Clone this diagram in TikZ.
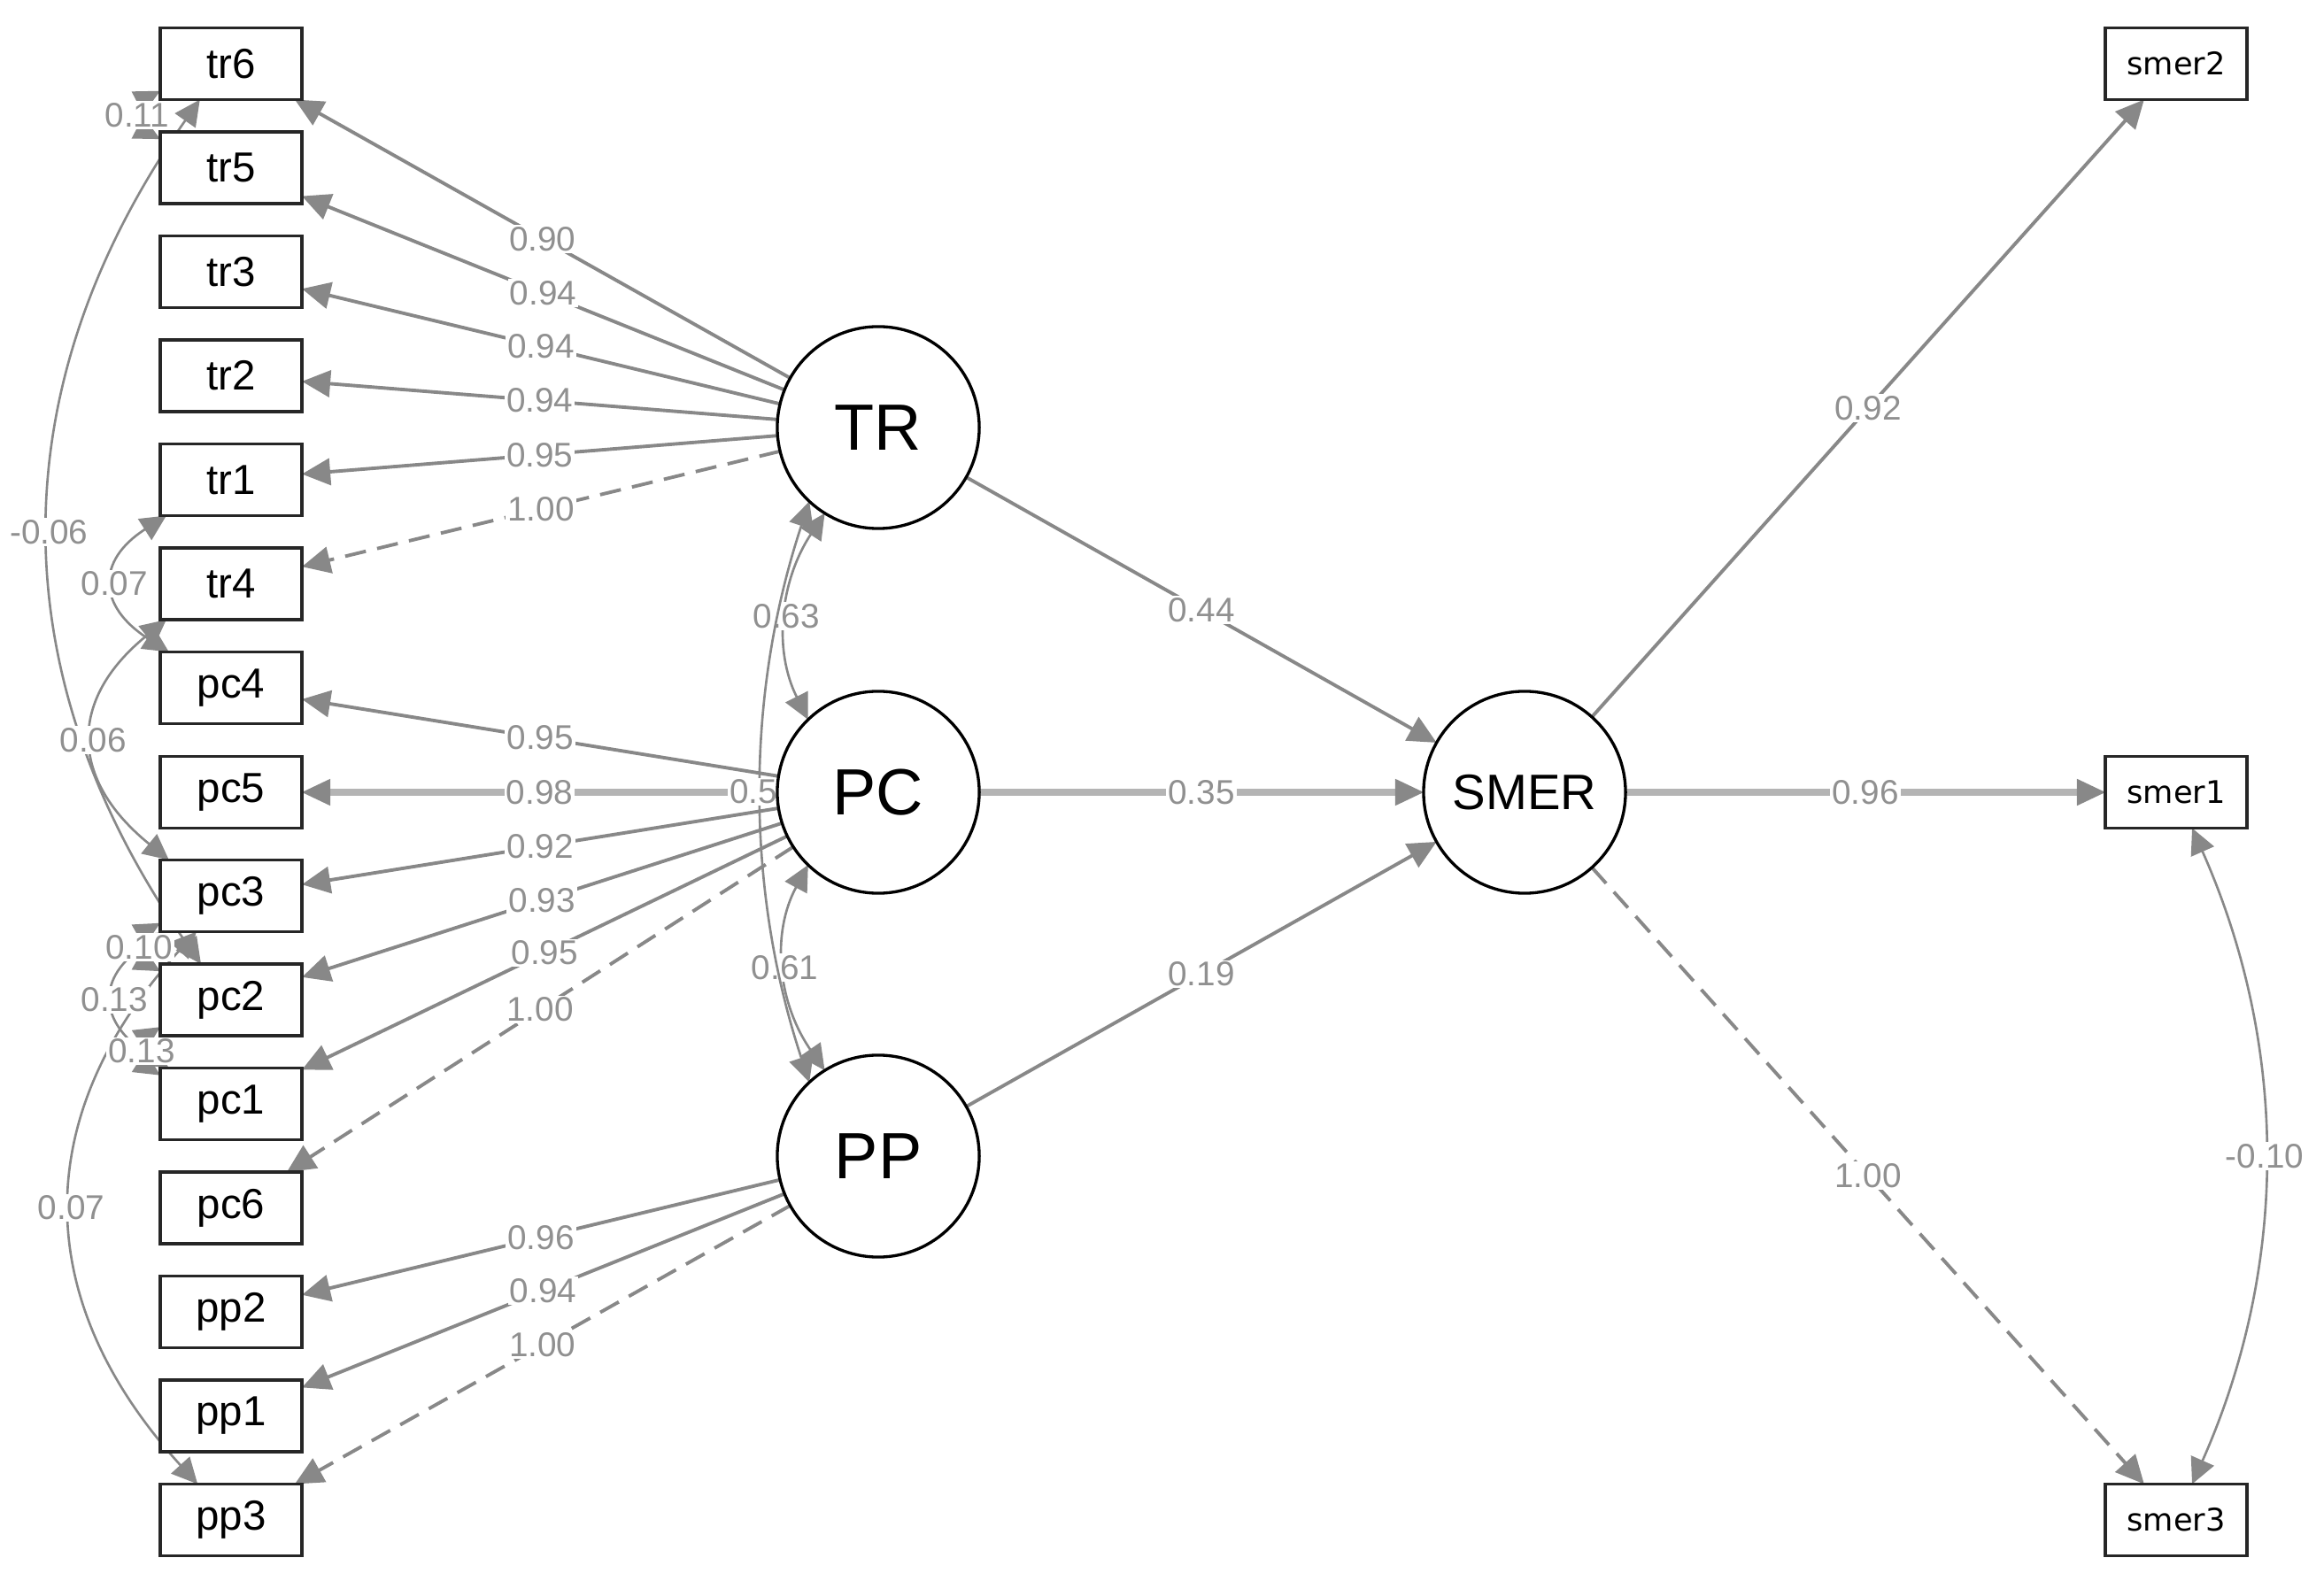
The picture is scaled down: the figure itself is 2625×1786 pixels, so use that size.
\documentclass[tikz,border=0pt]{standalone}
\usepackage{fontspec}
\setmainfont{Liberation Sans}
\newfontfamily\smerfont{DejaVu Sans}
\usetikzlibrary{arrows.meta}
\pgfdeclarelayer{bg}
\pgfdeclarelayer{edges}
\pgfsetlayers{bg,edges,main}
\definecolor{lg}{HTML}{888888}
\definecolor{lgh}{HTML}{B4B4B4}
\definecolor{lab}{HTML}{909090}
\tikzset{
  obs/.style={draw=black!85, line width=1.1pt, fill=white, minimum width=1.6cm, minimum height=0.81cm, inner sep=0pt, outer sep=0pt, font=\fontsize{13.5}{16}\selectfont},
  obsr/.style={obs, font=\smerfont\fontsize{10}{12}\selectfont},
  lat/.style={circle, draw=black, line width=0.95pt, fill=white, minimum size=2.28cm, inner sep=0pt, outer sep=0pt, font=\fontsize{21}{24}\selectfont},
  load/.style={draw=lg, line width=1.1pt, -{Triangle[length=0.32cm,width=0.30cm]}},
  loadh/.style={draw=lgh, line width=2pt, -{Triangle[length=0.32cm,width=0.30cm,color=lg,line width=0.5pt]}},
  fixed/.style={load, dash pattern=on 0.24cm off 0.13cm},
  cov/.style={draw=lg, line width=0.75pt, {Triangle[length=0.29cm,width=0.28cm]}-{Triangle[length=0.29cm,width=0.28cm]}},
  lbl/.style={fill=white, text=lab, inner sep=0.6pt, font=\fontsize{11}{12}\selectfont},
}
\begin{document}
\begin{tikzpicture}[x=0.01cm, y=-0.01cm]
\begin{pgfonlayer}{bg}
\fill[white] (0,0) rectangle (2625,1786);
\end{pgfonlayer}
\useasboundingbox (0,0) rectangle (2625,1786);

% observed indicators (left)
\foreach \n/\y in {tr6/72, tr5/189.5, tr3/307, tr2/424.5, tr1/542, tr4/659.5, pc4/777, pc5/895, pc3/1012, pc2/1129.5, pc1/1247, pc6/1364.5, pp2/1482, pp1/1599.5, pp3/1717}
  \node[obs] (\n) at (261,\y) {\n};

% observed indicators (right)
\node[obsr] (smer2) at (2458,72) {smer2};
\node[obsr] (smer1) at (2458,895) {smer1};
\node[obsr] (smer3) at (2458,1717) {smer3};

% latent variables
\node[lat] (TR) at (992,483) {TR};
\node[lat] (PC) at (992,895) {PC};
\node[lat] (PP) at (992,1306) {PP};
\node[lat, font=\fontsize{16}{18}\selectfont] (SMER) at (1722,895) {SMER};

\begin{pgfonlayer}{edges}
% TR loadings
\draw[load] (TR) -- node[lbl]{0.90} (tr6);
\draw[load] (TR) -- node[lbl]{0.94} (tr5);
\draw[load] (TR) -- node[lbl]{0.94} (tr3);
\draw[load] (TR) -- node[lbl]{0.94} (tr2);
\draw[load] (TR) -- node[lbl]{0.95} (tr1);
\draw[fixed] (TR) -- node[lbl]{1.00} (tr4);
% PC loadings
\draw[load] (PC) -- node[lbl]{0.95} (pc4);
\draw[loadh] (PC) -- node[lbl]{0.98} (pc5);
\draw[load] (PC) -- node[lbl]{0.92} (pc3);
\draw[load] (PC) -- node[lbl]{0.93} (pc2);
\draw[load] (PC) -- node[lbl]{0.95} (pc1);
\draw[fixed] (PC) -- node[lbl]{1.00} (pc6);
% PP loadings
\draw[load] (PP) -- node[lbl]{0.96} (pp2);
\draw[load] (PP) -- node[lbl]{0.94} (pp1);
\draw[fixed] (PP) -- node[lbl]{1.00} (pp3);
% structural paths
\draw[load] (TR) -- node[lbl]{0.44} (SMER);
\draw[loadh] (PC) -- node[lbl]{0.35} (SMER);
\draw[load] (PP) -- node[lbl]{0.19} (SMER);
% SMER loadings
\draw[load] (SMER) -- node[lbl]{0.92} (smer2);
\draw[loadh] (SMER) -- node[lbl]{0.96} (smer1);
\draw[fixed] (SMER) -- node[lbl]{1.00} (smer3);

% latent covariances
\draw[cov] (TR.238) .. controls +(-51.1,77.5) and +(-39.2,-78) .. node[lbl]{0.63} (PC.134);
\draw[cov] (PC.226) .. controls +(-41.7,77.3) and +(-53.5,-77.5) .. node[lbl]{0.61} (PP.122);
\draw[cov] (TR.227) .. controls +(-72.4,218.7) and +(-72.4,-218.7) .. node[lbl, xshift=-0.09cm]{0.5} (PP.133);

% residual covariances (left)
\draw[cov] (tr6.229.2) .. controls +(-228,325.7) and +(-228,-325.7) .. node[lbl]{-0.06} (pc2.130.8);
\draw[cov] (tr6.201.8) .. controls +(-34.7,18) and +(-34.7,-18) .. node[lbl]{0.11} (tr5.158.2);
\draw[cov] (tr1.209.7) .. controls +(-80,51.3) and +(-80,-51.3) .. node[lbl]{0.07} (pc4.150.3);
\draw[cov] (tr4.209.7) .. controls +(-112,90.7) and +(-112,-90.7) .. node[lbl]{0.06} (pc3.150.3);
\draw[cov] (pc3.226.1) .. controls +(-189.3,208) and +(-189.3,-208) .. node[lbl]{0.07} (pp3.133.9);
\draw[cov] (pc3.209.7) .. controls +(-80,51.3) and +(-80,-51.3) .. node[lbl]{0.13} (pc1.150.3);
\draw[cov] (pc3.201.8) .. controls +(-32,18) and +(-32,-18) .. node[lbl]{0.10} (pc2.158.2);
\draw[cov] (pc2.201.8) .. controls +(-28,18) and +(-28,-18) .. node[lbl]{0.13} (pc1.158.2);

% residual covariance (right)
\draw[cov] (smer1.-66) .. controls +(109.3,246.7) and +(109.3,-246.7) .. node[lbl]{-0.10} (smer3.66);
\end{pgfonlayer}
\end{tikzpicture}
\end{document}
